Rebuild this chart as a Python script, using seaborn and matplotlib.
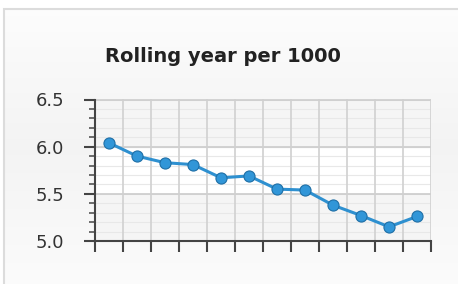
import numpy as np
import pandas as pd
import matplotlib
matplotlib.use('Agg')
import matplotlib.pyplot as plt
from matplotlib.patches import Rectangle
import seaborn as sns

# chart data
periods = list(range(1, 13))
rate = [6.04, 5.90, 5.83, 5.81, 5.67, 5.69, 5.55, 5.54, 5.38, 5.27, 5.15, 5.26]
y_ticks = [5.0, 5.5, 6.0, 6.5]
y_labels = ['5.0', '5.5', '6.0', '6.5']
title = 'Rolling year per 1000'

df = pd.DataFrame({'pos': np.arange(len(periods)), 'rate': rate})

sns.set_style('white')
plt.rcParams['font.family'] = ['DejaVu Sans']

fig = plt.figure(figsize=(4.58, 2.84), dpi=100)
fig.patch.set_facecolor('white')

# panel with light gradient behind the chart
grad = np.concatenate([np.linspace(0.99, 0.955, 128), np.linspace(0.955, 0.985, 128)]).reshape(-1, 1)
bg = fig.add_axes([4 / 458, 0, 1 - 4 / 458, 1 - 9 / 284])
bg.imshow(np.dstack([grad, grad, grad]), aspect='auto', extent=[0, 1, 0, 1], origin='upper')
bg.set_axis_off()
fig.add_artist(Rectangle((4 / 458, -0.01), 1.0, 1 - 9 / 284 + 0.01, transform=fig.transFigure,
                         fill=False, edgecolor='#dcdcdc', linewidth=1.5))

ax = fig.add_axes([95 / 458, 1 - 241 / 284, (431 - 95) / 458, (241 - 99.5) / 284])
ax.set_facecolor('white')

# alternating bands
ax.axhspan(6.0, 6.5, color='#f5f5f5', zorder=0)
ax.axhspan(5.0, 5.5, color='#f5f5f5', zorder=0)

# grid
for yv in np.arange(5.1, 6.5, 0.1):
    ax.axhline(yv, color='#e8e8e8', linewidth=0.8, zorder=1)
for yv in [5.5, 6.0, 6.5]:
    ax.axhline(yv, color='#cccccc', linewidth=1.2, zorder=1)
for xv in np.arange(-0.5, len(periods) + 0.5, 1.0):
    ax.axvline(xv, color='#d0d0d0', linewidth=1.2, zorder=1)

sns.lineplot(data=df, x='pos', y='rate', ax=ax, color='#2e90d0', linewidth=2.2,
             marker='o', markersize=8, markerfacecolor='#3196d8',
             markeredgecolor='#1f6fa6', markeredgewidth=0.8, zorder=3)

ax.set_xlim(-0.5, len(periods) - 0.5)
ax.set_ylim(5.0, 6.5)
ax.set_xticks(np.arange(-0.5, len(periods) + 0.5, 1.0))
ax.set_xticklabels([])
ax.set_yticks(y_ticks)
ax.set_yticklabels(y_labels)
ax.set_yticks(np.arange(5.1, 6.5, 0.1), minor=True)
ax.set_xlabel('')
ax.set_ylabel('')

for side in ['top', 'right']:
    ax.spines[side].set_visible(False)
for side in ['left', 'bottom']:
    ax.spines[side].set_color('#444444')
    ax.spines[side].set_linewidth(1.5)

ax.tick_params(axis='y', which='major', direction='out', length=8, width=1.5,
               color='#444444', labelsize=13, labelcolor='#333333', pad=14, left=True)
ax.tick_params(axis='y', which='minor', direction='out', length=4, width=1.2,
               color='#555555', left=True)
ax.tick_params(axis='x', which='major', direction='out', length=8, width=1.5,
               color='#444444', bottom=True)

fig.text(223 / 458, 1 - 56 / 284, title, ha='center', va='center',
         fontsize=14, fontweight='bold', color='#222222')

fig.savefig('out.png', dpi=100)
